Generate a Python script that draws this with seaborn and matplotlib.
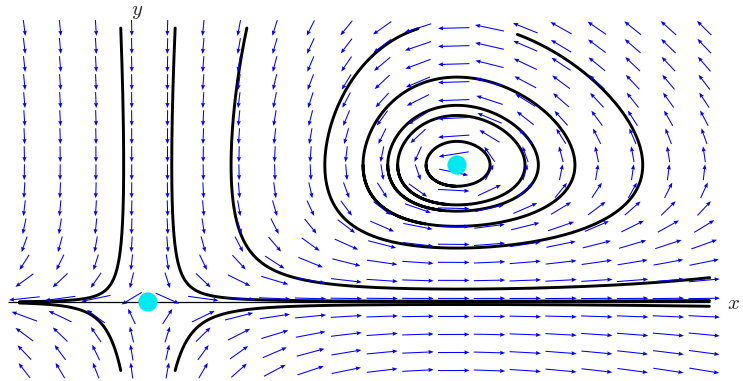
import numpy as np
import pandas as pd
import matplotlib
matplotlib.use("Agg")
import matplotlib.pyplot as plt
import seaborn as sns

# Predator-prey system: x' = x (a - b y),  y' = y (-c + d x)
a, b, c, d = 1.0, 0.5, 2.5, 1.0

# Direction-field sample points
grid_x = np.linspace(-1.0, 4.5, 20)
grid_y = np.linspace(-1.0, 4.0, 20)

# Equilibrium points
eq_x = [0.0, c / d]
eq_y = [0.0, a / b]

# Initial conditions and integration times of the drawn solutions
init_x = [-0.22, 0.22, -0.22, 0.22, 0.80, 2.185, 1.74, 1.94, 2.02, 2.25]
init_y = [4.0, 4.0, -1.0, -1.0, 4.0, 3.99, 2.0, 2.0, 2.0, 2.0]
t_final = [12, 12, 12, 12, 12, 3.82, 5, 5, 5, 5]

# Region in which solutions are traced
x_bounds = (-1.04, 4.55)
y_bounds = (-1.2, 4.4)


def field(x, y):
    return x * (a - b * y), y * (-c + d * x)


def trajectory(x0, y0, t_end, dt=0.002):
    xs, ys = [x0], [y0]
    x, y = x0, y0
    h = dt * np.sign(t_end)
    for _ in range(int(abs(t_end) / dt)):
        k1 = field(x, y)
        k2 = field(x + h / 2 * k1[0], y + h / 2 * k1[1])
        k3 = field(x + h / 2 * k2[0], y + h / 2 * k2[1])
        k4 = field(x + h * k3[0], y + h * k3[1])
        x = x + h / 6 * (k1[0] + 2 * k2[0] + 2 * k3[0] + k4[0])
        y = y + h / 6 * (k1[1] + 2 * k2[1] + 2 * k3[1] + k4[1])
        if not (x_bounds[0] <= x <= x_bounds[1] and y_bounds[0] <= y <= y_bounds[1]):
            break
        xs.append(x)
        ys.append(y)
    return np.array(xs), np.array(ys)


frames = []
for i, (x0, y0, T) in enumerate(zip(init_x, init_y, t_final)):
    tx, ty = trajectory(x0, y0, T)
    frames.append(pd.DataFrame({"x": tx, "y": ty, "curve": i}))
curves = pd.concat(frames, ignore_index=True)

sns.set_style("white")
plt.rcParams["mathtext.fontset"] = "cm"

fig = plt.figure(figsize=(7.43, 3.81), dpi=100)
ax = fig.add_axes([0, 0, 1, 1])
ax.set_xlim(-1.197, 4.814)
ax.set_ylim(-1.153, 4.409)
ax.set_axis_off()

# x axis
ax.hlines(0, -1.13, 4.55, color="black", linewidth=0.9, zorder=1)

# Solution curves
sns.lineplot(data=curves, x="x", y="y", units="curve", estimator=None,
             sort=False, color="black", linewidth=2.1, ax=ax, zorder=2,
             legend=False)

# Direction field: arrows scaled to a fixed fraction of a grid cell
GX, GY = np.meshgrid(grid_x, grid_y)
FX, FY = field(GX, GY)
dx = grid_x[1] - grid_x[0]
dy = grid_y[1] - grid_y[0]
norm = np.hypot(FX / dx, FY / dy)
norm[norm == 0] = 1.0
k = 0.88 / norm
ax.quiver(GX, GY, FX * k, FY * k, color="#0000FF", angles="xy",
          scale_units="xy", scale=1, pivot="middle", width=0.0014,
          headwidth=4, headlength=5, headaxislength=4.5, zorder=3)

# Equilibria
sns.scatterplot(x=eq_x, y=eq_y, color="#00E8F0", s=190, edgecolor="none",
                ax=ax, zorder=5, legend=False)

ax.text(4.74, -0.015, "$x$", fontsize=15, ha="center", va="center")
ax.text(-0.089, 4.248, "$y$", fontsize=15, ha="center", va="center")

fig.savefig("out.png", dpi=100)
